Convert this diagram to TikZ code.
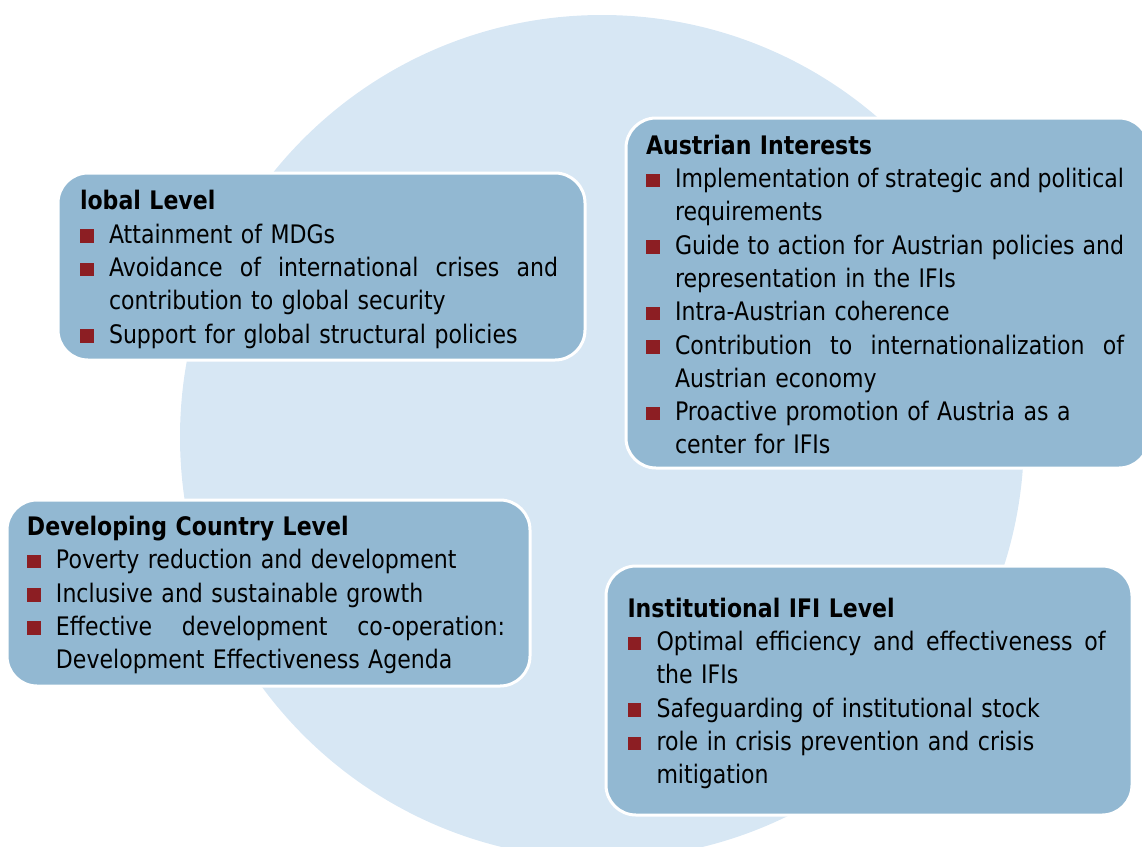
\documentclass[tikz,border=0pt]{standalone}
\usepackage{fontspec}
\setmainfont{DejaVu Sans}[FakeStretch=0.865]
\usepackage{xcolor}

\definecolor{circleblue}{RGB}{215,231,244}
\definecolor{boxblue}{RGB}{146,184,210}
\definecolor{bulletred}{RGB}{140,30,35}

% square bullet, item line, continuation line, justified line, title
\newcommand{\bsq}{\textcolor{bulletred}{\rule[0.5pt]{13.5pt}{13.5pt}}}
\newcommand{\itm}[1]{\makebox[29pt][l]{\bsq}#1}
\newcommand{\cnt}[1]{\hspace*{29pt}#1}
\newcommand{\jst}[1]{\makebox[449pt][s]{%
  \spaceskip=\fontdimen2\font plus 1fil minus 0.4\fontdimen2\font\relax #1}}
\newcommand{\ttl}[2]{\rule{0pt}{#1}\textbf{#2}}

\tikzset{
  levelbox/.style={draw=white, line width=3pt, fill=boxblue, rounded corners=30pt,
    text width=483pt, align=left, inner xsep=20pt,
    font=\fontsize{25.5}{33.3}\selectfont}
}

\begin{document}
\begin{tikzpicture}[x=1pt,y=-1pt]
  \useasboundingbox (0,0) rectangle (1142,846);
  \clip (0,0) rectangle (1142,846);
  \fill[circleblue] (602,437) circle (422pt);

  \node[levelbox, minimum width=527pt, minimum height=187pt] (global) at (321.5,266.5)
    {\ttl{25.4pt}{lobal Level}\\
     \itm{Attainment of MDGs}\\
     \itm{\jst{Avoidance of international crises and}}\\
     \cnt{contribution to global security}\\
     \itm{Support for global structural policies}};

  \node[levelbox, minimum width=523pt, minimum height=350pt] (austria) at (887.5,293)
    {\ttl{22.6pt}{Austrian Interests}\\
     \itm{\jst{Implementation of strategic and political}}\\
     \cnt{requirements}\\
     \itm{\jst{Guide to action for Austrian policies and}}\\
     \cnt{representation in the IFIs}\\
     \itm{Intra-Austrian coherence}\\
     \itm{\jst{Contribution to internationalization of}}\\
     \cnt{Austrian economy}\\
     \itm{Proactive promotion of Austria as a}\\
     \cnt{center for IFIs}};

  \node[levelbox, minimum width=523pt, minimum height=186pt] (country) at (268.5,593)
    {\ttl{23.4pt}{Developing Country Level}\\
     \itm{Poverty reduction and development}\\
     \itm{Inclusive and sustainable growth}\\
     \itm{\jst{Effective development co-operation:}}\\
     \cnt{Development Effectiveness Agenda}};

  \node[levelbox, minimum width=526pt, minimum height=249pt] (ifi) at (869,690.5)
    {\ttl{25.4pt}{Institutional IFI Level}\\
     \itm{\jst{Optimal efficiency and effectiveness of}}\\
     \cnt{the IFIs}\\
     \itm{Safeguarding of institutional stock}\\
     \itm{role in crisis prevention and crisis}\\
     \cnt{mitigation}};
\end{tikzpicture}
\end{document}
